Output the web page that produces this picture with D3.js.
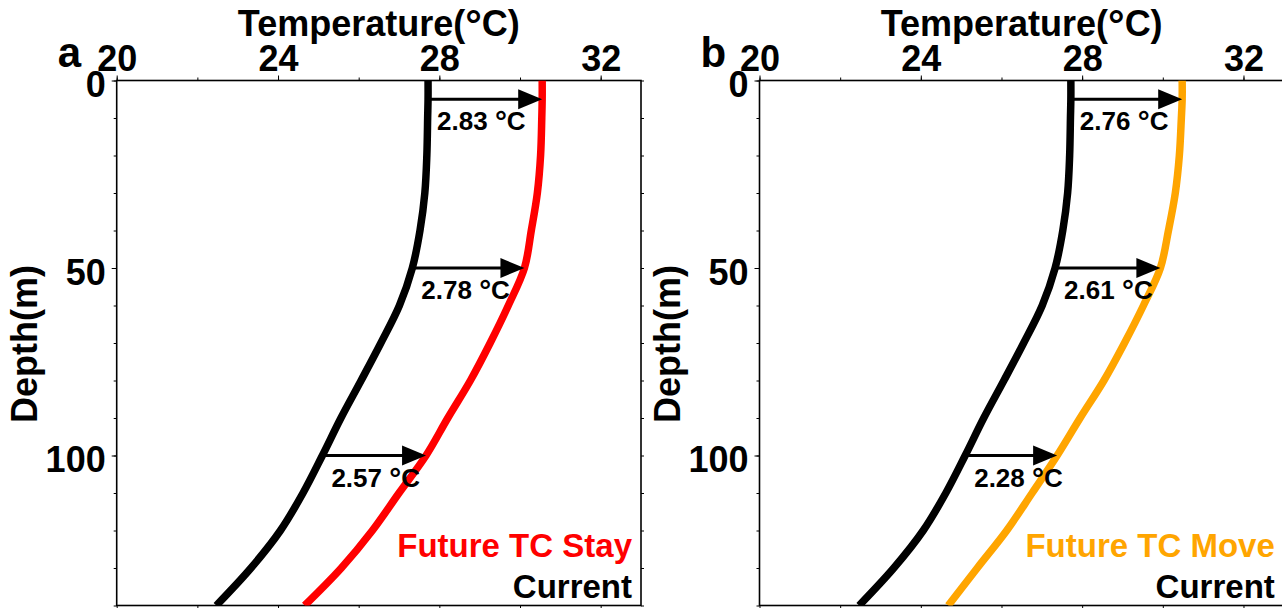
<!DOCTYPE html>
<html>
<head>
<meta charset="utf-8">
<script src="https://cdn.jsdelivr.net/npm/d3@7"></script>
<style>
  html, body { margin: 0; padding: 0; background: #fff; }
  svg { display: block; font-family: "Liberation Sans", Arial, Helvetica, sans-serif; font-weight: bold; }
</style>
</head>
<body>
<svg id="chart" width="1282" height="608"></svg>
<script>
// Depth levels (m) of the temperature profiles
const depths = [0, 5, 10, 20, 30, 40, 50, 60, 70, 80, 90, 100, 110, 120, 130, 140];
// Present-day profile (°C)
const current = [27.72, 27.72, 27.71, 27.69, 27.64, 27.52, 27.33, 27.01, 26.55, 26.06, 25.56, 25.10, 24.62, 24.06, 23.33, 22.47];
// Future profile, TC tracks unchanged
const futureStay = [30.55, 30.55, 30.54, 30.51, 30.43, 30.28, 30.11, 29.71, 29.26, 28.77, 28.21, 27.67, 27.00, 26.34, 25.57, 24.66];
// Future profile, TC tracks shifted
const futureMove = [30.48, 30.48, 30.46, 30.41, 30.31, 30.14, 29.94, 29.52, 29.05, 28.54, 27.95, 27.38, 26.76, 26.13, 25.40, 24.68];

// Warming annotations
const arrowDepths = [5, 50, 100];
const warmingStay = [2.83, 2.78, 2.57];
const warmingMove = [2.76, 2.61, 2.28];

// Axis ticks
const tempTicks = [20, 24, 28, 32];
const depthTicks = [0, 50, 100];

const svg = d3.select("#chart");
const yTop = 80.5, yBottom = 605.5, panelW = 524.3;

const panels = [
  { tag: "a", left: 116.7, future: futureStay, warming: warmingStay, color: "#ff0000", name: "Future TC Stay" },
  { tag: "b", left: 759.5, future: futureMove, warming: warmingMove, color: "#ffa500", name: "Future TC Move" }
];

// writes "<prefix>°C<suffix>" with a slightly enlarged degree ring
function degreeText(sel, prefix, suffix, size) {
  sel.append("tspan").text(prefix);
  sel.append("tspan").attr("font-size", size * 1.15).attr("dy", size * 0.08).text("°");
  sel.append("tspan").attr("dy", -size * 0.08).text("C" + suffix);
}

panels.forEach((p) => {
  const x = d3.scaleLinear().domain([20, 33]).range([p.left, p.left + panelW]);
  const y = d3.scaleLinear().domain([0, 140]).range([yTop, yBottom]);
  const g = svg.append("g");

  const clipId = "clip-" + p.tag;
  svg.append("clipPath").attr("id", clipId)
    .append("rect").attr("x", x.range()[0]).attr("y", yTop)
    .attr("width", panelW).attr("height", yBottom - yTop);

  // minor ticks on all four sides
  const minorT = d3.range(20, 33.01, 2);
  const minorD = d3.range(0, 140.01, 10);
  const styleAxis = sel => {
    sel.select(".domain").remove();
    sel.selectAll("line").attr("stroke", "#000").attr("stroke-width", 1);
    sel.attr("font-family", null).attr("font-size", null);
  };
  g.append("g").attr("transform", `translate(0,${yTop})`)
    .call(d3.axisTop(x).tickValues(minorT).tickFormat("").tickSize(3)).call(styleAxis);
  g.append("g").attr("transform", `translate(0,${yBottom})`)
    .call(d3.axisBottom(x).tickValues(minorT).tickFormat("").tickSize(4)).call(styleAxis);
  g.append("g").attr("transform", `translate(${x.range()[0]},0)`)
    .call(d3.axisLeft(y).tickValues(minorD).tickFormat("").tickSize(3)).call(styleAxis);
  g.append("g").attr("transform", `translate(${x.range()[1]},0)`)
    .call(d3.axisRight(y).tickValues(minorD).tickFormat("").tickSize(3)).call(styleAxis);

  // labelled axes
  const xAx = g.append("g").attr("transform", `translate(0,${yTop})`)
    .call(d3.axisTop(x).tickValues(tempTicks).tickFormat(d3.format("d")).tickSize(5).tickPadding(5))
    .call(styleAxis);
  xAx.selectAll("text").attr("font-size", 36).attr("fill", "#000").attr("dy", "0em");

  const yAx = g.append("g").attr("transform", `translate(${x.range()[0]},0)`)
    .call(d3.axisLeft(y).tickValues(depthTicks).tickFormat(d3.format("d")).tickSize(5).tickPadding(6))
    .call(styleAxis);
  yAx.selectAll("text").attr("font-size", 36).attr("fill", "#000").attr("dy", "0.45em");

  // frame
  g.append("rect").attr("x", x.range()[0]).attr("y", yTop)
    .attr("width", panelW).attr("height", yBottom - yTop)
    .attr("fill", "none").attr("stroke", "#000").attr("stroke-width", 1.6);

  // axis titles and panel tag
  g.append("text").attr("x", (x.range()[0] + x.range()[1]) / 2).attr("y", 36)
    .attr("text-anchor", "middle").attr("font-size", 36)
    .call(degreeText, "Temperature(", ")", 36);
  g.append("text")
    .attr("transform", `translate(${p.left - 80},344) rotate(-90)`)
    .attr("text-anchor", "middle").attr("font-size", 36).text("Depth(m)");
  g.append("text").attr("x", p.left - 59).attr("y", 67)
    .attr("font-size", 42).text(p.tag);

  // profiles
  const line = (vals) => d3.line()
    .x((d, k) => x(vals[k])).y(d => y(d))
    .curve(d3.curveCatmullRom.alpha(0.5))(depths);
  const curves = g.append("g").attr("clip-path", `url(#${clipId})`);
  curves.append("path").attr("d", line(current))
    .attr("fill", "none").attr("stroke", "#000").attr("stroke-width", 7.5);
  curves.append("path").attr("d", line(p.future))
    .attr("fill", "none").attr("stroke", p.color).attr("stroke-width", 7.5);

  // warming arrows, current -> future at selected depths
  const headL = 24, headW = 10;
  arrowDepths.forEach((dep, k) => {
    const t0 = current[depths.indexOf(dep)];
    const t1 = t0 + p.warming[k];
    const x0 = x(t0), x1 = x(t1), yy = y(dep);
    g.append("line").attr("x1", x0).attr("x2", x1 - headL + 2)
      .attr("y1", yy).attr("y2", yy).attr("stroke", "#000").attr("stroke-width", 3);
    g.append("path")
      .attr("d", `M${x1},${yy}L${x1 - headL},${yy - headW}L${x1 - headL},${yy + headW}Z`)
      .attr("fill", "#000");
    g.append("text").attr("x", x0 + 9).attr("y", yy + 31)
      .attr("font-size", 26)
      .call(degreeText, p.warming[k].toFixed(2) + " ", "", 26);
  });

  // legend
  const lx = x.range()[1] - 9;
  g.append("text").attr("x", lx).attr("y", 557).attr("text-anchor", "end")
    .attr("font-size", 33).attr("fill", p.color).text(p.name);
  g.append("text").attr("x", lx).attr("y", 598).attr("text-anchor", "end")
    .attr("font-size", 33).attr("fill", "#000").text("Current");
});
</script>
</body>
</html>
